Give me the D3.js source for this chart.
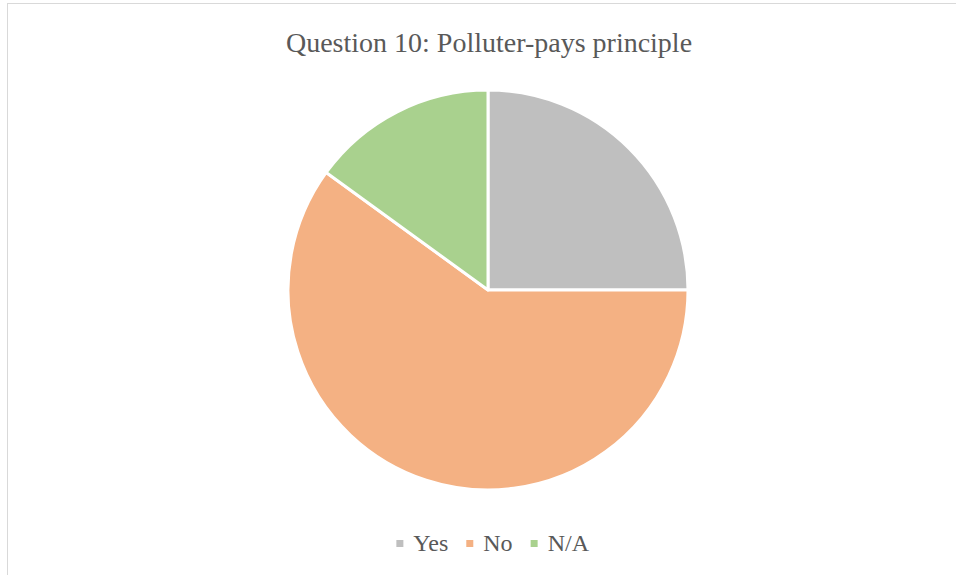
<!DOCTYPE html>
<html>
<head>
<meta charset="utf-8">
<script src="https://cdn.jsdelivr.net/npm/d3@7"></script>
<style>
  html, body { margin: 0; padding: 0; background: #fff; }
  svg { display: block; }
</style>
</head>
<body>
<svg id="chart" width="956" height="575"></svg>
<script>
// Survey answers for Question 10 (share of responses, %)
const categories = ["Yes", "No", "N/A"];
const values = [25, 60, 15];
const colors = ["#bfbfbf", "#f4b183", "#a9d18e"];
const title = "Question 10: Polluter-pays principle";

const svg = d3.select("#chart");
const W = 956, H = 575;
const serif = "'Liberation Serif', 'Times New Roman', serif";

// chart area frame
svg.append("rect")
  .attr("x", 7.5).attr("y", 3.5)
  .attr("width", W + 20).attr("height", H + 20)
  .attr("fill", "#fff")
  .attr("stroke", "#d9d9d9")
  .attr("stroke-width", 1);

svg.append("text")
  .attr("x", 489).attr("y", 52)
  .attr("text-anchor", "middle")
  .attr("font-family", serif)
  .attr("font-size", 28)
  .attr("fill", "#595959")
  .text(title);

const cx = 488, cy = 290, r = 200;
const color = d3.scaleOrdinal().domain(categories).range(colors);

const pie = d3.pie().sort(null).value(d => d.value);
const arc = d3.arc().innerRadius(0).outerRadius(r);
const data = categories.map((c, i) => ({ name: c, value: values[i] }));

svg.append("g")
  .attr("transform", `translate(${cx},${cy})`)
  .selectAll("path")
  .data(pie(data))
  .join("path")
  .attr("d", arc)
  .attr("fill", d => color(d.data.name))
  .attr("stroke", "#fff")
  .attr("stroke-width", 3)
  .attr("stroke-linejoin", "round");

// legend
const legend = svg.append("g").attr("transform", "translate(0,551)");
const items = legend.selectAll("g").data(categories).join("g");
items.append("rect")
  .attr("width", 7).attr("height", 7)
  .attr("y", -11)
  .attr("fill", d => color(d));
items.append("text")
  .attr("x", 17)
  .attr("font-family", serif)
  .attr("font-size", 24)
  .attr("fill", "#595959")
  .text(d => d);

// lay items out horizontally, centred under the pie
let widths = [];
items.each(function() { widths.push(this.getBBox().width); });
const gap = 18;
const total = d3.sum(widths) + gap * (widths.length - 1);
let x0 = 493 - total / 2;
items.attr("transform", (d, i) => {
  const t = `translate(${x0},0)`;
  x0 += widths[i] + gap;
  return t;
});
</script>
</body>
</html>
